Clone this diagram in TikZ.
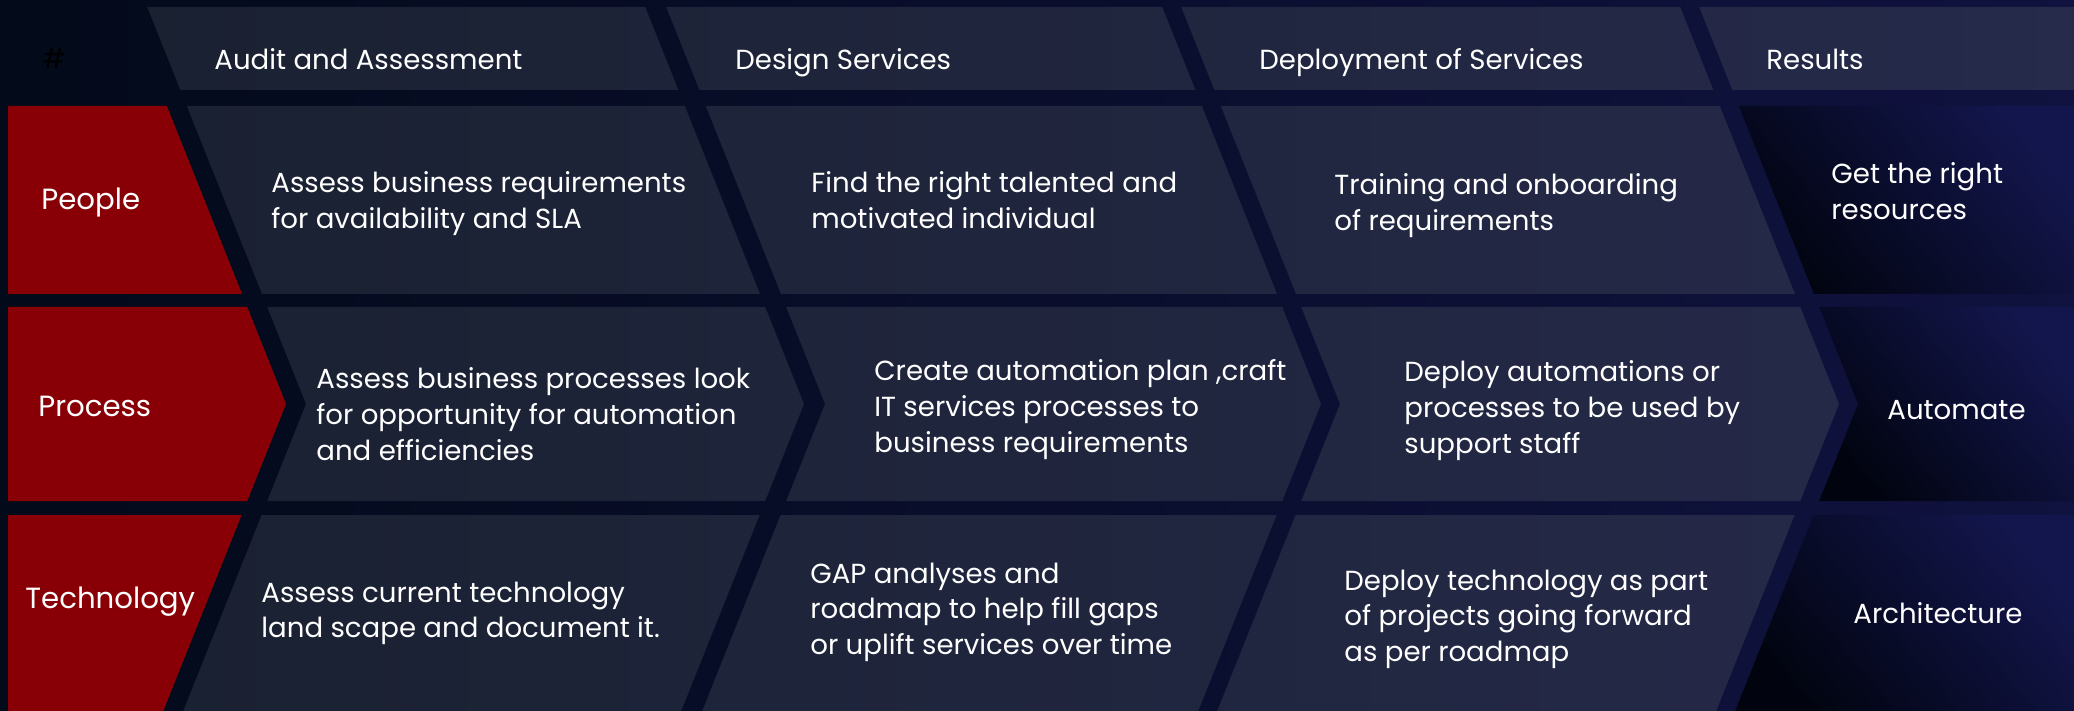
\documentclass[tikz,border=0pt]{standalone}
\usepackage{fontspec}
\setmainfont{Poppins}
\definecolor{bgL}{HTML}{030A19}
\definecolor{bgR}{HTML}{10123F}
\definecolor{cellL}{HTML}{1A2131}
\definecolor{cellR}{HTML}{262A4B}
\definecolor{resL}{HTML}{01040F}
\definecolor{resR}{HTML}{13164C}
\definecolor{redA}{HTML}{880006}
\newcommand\txtlines[1]{\begin{tabular}[t]{@{}l@{}}#1\end{tabular}}
\begin{document}
\begin{tikzpicture}[x=0.5pt,y=-0.5pt,
  cellp/.style n args={4}{insert path={({#1-0.4*abs(#3-404)},#3) -- ({#2-0.4*abs(#3-404)},#3) -- ({#2-0.4*abs(#4-404)},#4) -- ({#1-0.4*abs(#4-404)},#4) -- cycle}},
  chevp/.style 2 args={insert path={({#1-38.8},307) -- ({#2-38.8},307) -- (#2,404) -- ({#2-38.8},501) -- ({#1-38.8},501) -- (#1,404) -- cycle}},
  cellfill/.style={left color=cellL,right color=cellR},
  resfill/.style={top color=resR,bottom color=resL,shading angle=-50},
  redfill/.style={fill=redA},
  hdr/.style={text=white,font=\fontsize{13.8}{17.8}\selectfont,anchor=base west,inner sep=0pt},
  lbl/.style={text=white,font=\fontsize{14.6}{17.8}\selectfont,anchor=base west,inner sep=0pt},
  body/.style={text=white,font=\fontsize{13.8}{17.8}\selectfont,anchor=base west,inner sep=0pt}]
% background
\shade[left color=bgL,right color=bgR] (0,0) rectangle (2074,711);
% regular cells (one shading across all of them)
\path[cellfill,
  cellp={306}{804}{7}{90}, cellp={825}{1321}{7}{90}, cellp={1340}{1839}{7}{90},
  cellp={306}{804}{106}{294}, cellp={825}{1321}{106}{294}, cellp={1340}{1839}{106}{294},
  chevp={306}{804}, chevp={825}{1321}, chevp={1340}{1839},
  cellp={306}{804}{515}{711}, cellp={825}{1321}{515}{711}, cellp={1340}{1839}{515}{711},
  insert path={(1699.2,7) -- (2074,7) -- (2074,90) -- (1732.4,90) -- cycle}];
% results cells
\shade[resfill] (1738.8,106) -- (2074,106) -- (2074,294) -- (1814,294) -- cycle;
\shade[resfill] (1819.2,307) -- (2074,307) -- (2074,501) -- (1819.2,501) -- (1858,404) -- cycle;
\shade[resfill] (1813.6,515) -- (2074,515) -- (2074,711) -- (1735.2,711) -- cycle;
% red row labels
\fill[redfill] (8,106) -- (166.8,106) -- (242,294) -- (8,294) -- cycle;
\fill[redfill] (8,307) -- (247.2,307) -- (286,404) -- (247.2,501) -- (8,501) -- cycle;
\fill[redfill] (8,515) -- (241.6,515) -- (163.2,711) -- (8,711) -- cycle;
% header texts
\node[hdr,text=black] (hash) at (42,69) {\#};
\node[hdr] (hAudit) at (214,70) {Audit and Assessment};
\node[hdr] (hDesign) at (735,70) {Design Services};
\node[hdr] (hDeploy) at (1259,70) {Deployment of Services};
\node[hdr] (hResults) at (1766,70) {Results};
% row labels
\node[lbl] (lPeople) at (41,210) {People};
\node[lbl] (lProcess) at (38,416) {Process};
\node[lbl] (lTech) at (25,608) {Technology};
% people row
\node[body] (p1) at (271,193) {\txtlines{Assess business requirements\\for availability and SLA}};
\node[body] (p2) at (811,193) {\txtlines{Find the right talented and\\motivated individual}};
\node[body] (p3) at (1334,195) {\txtlines{Training and onboarding\\of requirements}};
\node[body] (p4) at (1831,184) {\txtlines{Get the right\\resources}};
% process row
\node[body] (q1) at (316,389) {\txtlines{Assess business processes look\\for opportunity for automation\\and efficiencies}};
\node[body] (q2) at (874,381) {\txtlines{Create automation plan ,craft\\IT services processes to\\business requirements}};
\node[body] (q3) at (1404,382) {\txtlines{Deploy automations or\\processes to be used by\\support staff}};
\node[body] (q4) at (1887,420) {Automate};
% technology row
\node[body] (t1) at (261,602) {\txtlines{Assess current technology\\land scape and document it.}};
\node[body] (t2) at (810,583) {\txtlines{GAP analyses and\\roadmap to help fill gaps\\or uplift services over time}};
\node[body] (t3) at (1344,590) {\txtlines{Deploy technology as part\\of projects going forward\\as per roadmap}};
\node[body] (t4) at (1853,623) {Architecture};
\end{tikzpicture}
\end{document}
